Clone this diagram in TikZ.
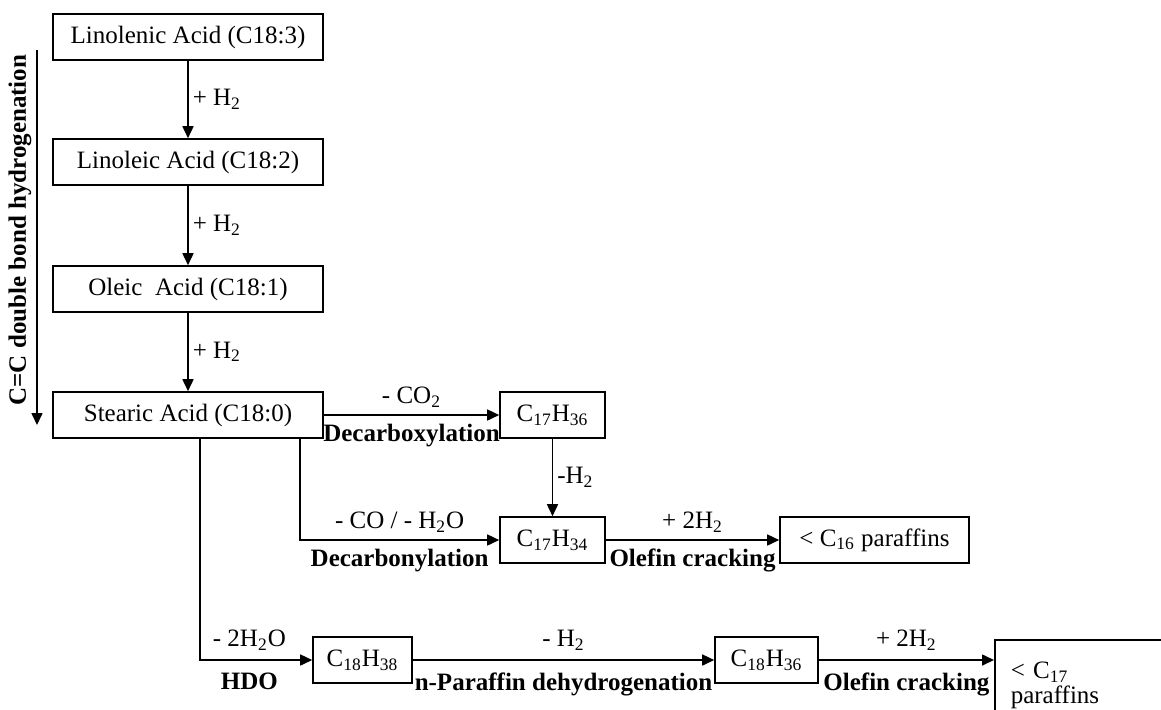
\documentclass[tikz,border=0pt]{standalone}
\usepackage{fontspec}
\setmainfont{Liberation Serif}
\usetikzlibrary{arrows.meta,calc}

\tikzset{
  acid/.style={draw, line width=0.8pt, minimum width=135pt, minimum height=23pt, inner sep=0pt},
  prod/.style={draw, line width=0.8pt, minimum height=23pt, inner sep=0pt},
  flow/.style={line width=0.8pt, -{Triangle[length=6pt,width=5.5pt]}},
  cond/.style={font=\fontsize{12.5}{14}\selectfont\bfseries, inner sep=1pt},
}

\begin{document}
\begin{tikzpicture}[x=0.5pt, y=-0.5pt, font=\fontsize{12.5}{14}\selectfont]
  \useasboundingbox (0,0) rectangle (1161,709);
  \clip (0,0) rectangle (1161,709);

  % C=C hydrogenation chain
  \node[acid] (lnl) at (188,37) {Linolenic Acid (C18:3)};
  \node[acid] (lin) at (188,162) {Linoleic Acid (C18:2)};
  \node[acid] (ole) at (188,289) {Oleic \ Acid (C18:1)};
  \node[acid] (ste) at (188,415) {Stearic Acid (C18:0)};

  \draw[flow] (lnl) -- node[right, inner sep=2pt] {+ H\textsubscript{2}} (lin);
  \draw[flow] (lin) -- node[right, inner sep=2pt] {+ H\textsubscript{2}} (ole);
  \draw[flow] (ole) -- node[right, inner sep=2pt] {+ H\textsubscript{2}} (ste);

  \coordinate (htop) at (37,50);
  \coordinate (hbot) at (37,425);
  \draw[flow] (htop) -- (hbot);
  \node[cond, rotate=90] (hlab) at (20,230) {C=C double bond hydrogenation};

  % deoxygenation products
  \node[prod, minimum width=52.5pt] (c17a) at (552.5,415) {C\textsubscript{17}H\textsubscript{36}};
  \node[prod, minimum width=52.5pt] (c17b) at (552.5,540) {C\textsubscript{17}H\textsubscript{34}};
  \node[prod, minimum width=94.5pt] (c16p) at (874.5,540) {< C\textsubscript{16} paraffins};
  \node[prod, minimum width=49.5pt] (c18a) at (362.5,660) {C\textsubscript{18}H\textsubscript{38}};
  \node[prod, minimum width=51.5pt] (c18b) at (766.5,660) {C\textsubscript{18}H\textsubscript{36}};
  \node[draw, line width=0.8pt, anchor=north west, minimum height=46pt,
        text width=100pt, align=left, inner xsep=8pt] (c17p) at (994,639)
        {< C\textsubscript{17}\\[-1.5pt]paraffins};

  \draw[flow] (ste) -- node[above] {- CO\textsubscript{2}}
    node[cond, below=3pt] {Decarboxylation} (c17a);
  \draw[flow] (c17a) -- node[right, inner sep=2pt] {-H\textsubscript{2}} (c17b);
  \draw[flow] ($(ste.south)+(112,0)$) |- node[pos=0.75, above] {- CO / - H\textsubscript{2}O}
    node[pos=0.75, cond, below=3pt] {Decarbonylation} (c17b);
  \draw[flow] (c17b) -- node[above] {+ 2H\textsubscript{2}}
    node[cond, below=3pt] {Olefin cracking} (c16p);

  \draw[flow] ($(ste.south)+(12,0)$) |- node[pos=0.72, above=1pt] {- 2H\textsubscript{2}O}
    node[pos=0.72, cond, below=5pt] {HDO} (c18a);
  \draw[flow] (c18a) -- node[above=1pt] {- H\textsubscript{2}}
    node[cond, below=5pt] {n-Paraffin dehydrogenation} (c18b);
  \draw[flow] (c18b.east) -- node[above=1pt] {+ 2H\textsubscript{2}}
    node[cond, below=5pt] {Olefin cracking} (c18b.east -| c17p.west);

\end{tikzpicture}
\end{document}
